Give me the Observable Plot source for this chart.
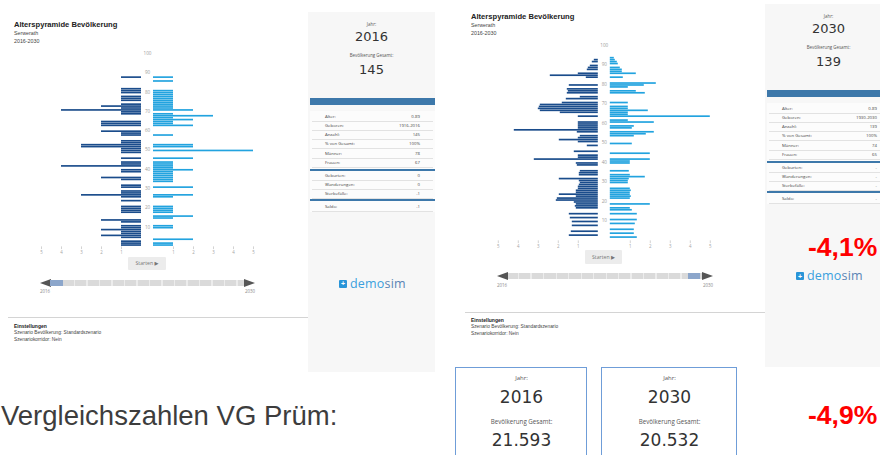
<!DOCTYPE html>
<html><head><meta charset="utf-8">
<script src="https://cdn.jsdelivr.net/npm/d3@7"></script>
<script src="https://cdn.jsdelivr.net/npm/@observablehq/plot@0.6"></script>
<style>
html,body{margin:0;padding:0;background:#fff;}
#root{position:relative;width:880px;height:455px;overflow:hidden;font-family:"Liberation Sans",Arial,sans-serif;}
</style></head><body><div id="root"></div>
<script>
// ---------- DATA ----------
// counts per single year of age (index = age 0..99)
const male2016 = [1,1,1,0,1,2,1,1,2,1, 1,0,1,2,0,0,0,1,1,1, 1,0,0,1,0,1,3,1,1,0, 1,1,0,0,1,2,0,0,1,1,
  0,4,1,1,0,1,0,0,1,1, 1,3,3,1,1,0,0,1,1,2, 0,0,2,2,2,0,0,0,1,1, 4,1,2,1,0,1,1,1,0,1, 1,1,0,0,0,0,0,1,0,0, 0,0,0,0,0,0,0,0,0,0];
const female2016 = [1,1,0,2,0,0,0,0,0,1, 1,0,0,0,1,2,0,1,1,1, 1,0,0,0,0,1,2,0,0,0, 2,0,0,1,1,1,1,1,1,2,
  1,1,1,1,0,2,0,0,0,5, 0,2,2,0,0,0,0,1,0,0, 0,0,2,1,1,2,1,3,1,0, 2,1,1,1,1,1,1,1,1,1, 1,0,0,0,0,1,0,1,0,0, 0,0,0,0,0,0,0,0,0,0];
const male2030 = [0,0,1.45,0,1.35,0,0,1.3,0,1.3, 0,1.4,0,1.45,0,0,1.1,1.15,1.1,1.2, 2.1,2.05,1.1,1.95,1.1,1.1,1.0,1.0,0.95,0.9,
  0.95,1.95,0,0.95,0.95,0.9,0,0,1.05,1.1, 0,3.2,1.0,1.0,0,1.2,0,0,0.55,0, 1.0,1.95,1.0,0.9,0,1.05,4.2,1.0,1.0,1.0,
  1.0,0,0,1.0,0,1.9,2.9,3.0,2.95,2.9, 1.8,0,1.6,0.9,0,1.55,1.5,1.55,0,1.45, 0,0,0,0.6,2.4,1.0,0,0.55,0.5,0.4, 0,0.3,0.2,0,0,0,0,0,0,0];
const female2030 = [0,1.35,0,1.2,0,1.2,0,0,1.25,0, 1.35,0,0,1.35,0,1.1,1.0,0,2.0,0, 0,1.0,1.05,1.0,1.0,1.05,1.0,0,0,0.9,
  0.9,0.95,1.75,1.0,0,0.95,0,0,0,1.0, 1.0,2.0,0,0,2.0,0,0,0,0,1.1, 0,0,0,1.2,1.8,2.2,0,1.1,1.2,0,
  2.2,0.9,0,5.0,0.9,0.9,1.9,0.9,0.9,0, 0.9,0,0,0,0,1.75,1.3,0,0.9,1.7, 2.3,0,0,0.65,0,1.3,0.6,0.6,0.5,0, 0.4,0.35,0.25,0.2,0,0,0,0,0,0];
const ageLabels = [10,20,30,40,50,60,70,80,90,100];
const xTickValues = [1,2,3,4,5];
const sliderYears = ["2016","2030"];
const statLabels = ["Alter:","Geboren:","Anzahl:","% von Gesamt:","Männer:","Frauen:"];
const stat2016 = ["0-89","1916-2016","145","100%","78","67"];
const stat2030 = ["0-89","1930-2030","139","100%","74","65"];
const flowLabels = ["Geburten:","Wanderungen:","Sterbefälle:"];
const flow2016 = ["0","0","-1"];
const flow2030 = ["-","-","-"];
const saldo2016 = "-1", saldo2030 = "-";
const total2016 = "145", total2030 = "139";
const vgYears = ["2016","2030"];
const vgTotals = ["21.593","20.532"];
const changeLocal = "-4,1%", changeVG = "-4,9%";

// ---------- HELPERS ----------
const root = document.getElementById('root');
const SANS = '"Liberation Sans",Arial,sans-serif';
const OPEN = '"Open Sans","DejaVu Sans",sans-serif';
const DEJA = '"DejaVu Sans",sans-serif';
function el(css, html){ const e=document.createElement('div'); e.style.cssText="position:absolute;"+css; if(html!=null) e.innerHTML=html; root.appendChild(e); return e; }
function T(text, x, cy, o={}){
  const size=o.size||5, lh=size*1.3;
  const tx = o.align==='center' ? 'translateX(-50%)' : o.align==='right' ? 'translateX(-100%)' : 'none';
  return el(`left:${x}px;top:${cy-lh/2}px;line-height:${lh}px;height:${lh}px;font-size:${size}px;font-weight:${o.weight||400};color:${o.color||'#333'};font-family:${o.family||SANS};white-space:nowrap;transform:${tx};${o.extra||''}`, text);
}

const maleColor="#1a4c8b", femaleColor="#22a3df";
function pyramid(male, female, cfg){
  const g=0.3, thick=0.86;
  const m = male.map((v,age)=>({age,v})).filter(d=>d.v>0);
  const f = female.map((v,age)=>({age,v})).filter(d=>d.v>0);
  const ticks = xTickValues.flatMap(k=>[{k,u:-(k+g)},{k,u:k+g}]);
  const p = Plot.plot({
    width: cfg.w, height: cfg.h, marginTop:0, marginRight:0, marginBottom:0, marginLeft:0,
    style:{background:"transparent", overflow:"visible", fontFamily:OPEN},
    x:{domain:[-6,6], range:[cfg.cx-120, cfg.cx+120], axis:null},
    y:{domain:[0,100], range:[cfg.y0, cfg.y100], axis:null},
    marks:[
      Plot.rect(m, {x1:-g, x2:d=>-(g+d.v), y1:d=>d.age+0.07, y2:d=>d.age+0.07+thick, fill:maleColor}),
      Plot.rect(f, {x1:g, x2:d=>g+d.v, y1:d=>d.age+0.07, y2:d=>d.age+0.07+thick, fill:femaleColor}),
      Plot.text(ageLabels, {x:0, y:d=>d, text:d=>String(d), fontSize:4.6, fill:"#9a9a9a"}),
      Plot.ruleX(ticks, {x:"u", y1:-0.2, y2:-1.6, stroke:"#b5b5b5", strokeWidth:0.6}),
      Plot.text(ticks, {x:"u", y:-3.3, text:d=>String(d.k), fontSize:4.4, fill:"#a5a5a5"})
    ]
  });
  const holder = el(`left:${cfg.left}px;top:${cfg.top}px;width:${cfg.w}px;height:${cfg.h}px;`);
  holder.appendChild(p);
}

function chartHeader(x, y){
  T("Alterspyramide Bevölkerung", x, y, {size:7.6, weight:700, color:"#222"});
  T("Serwerath", x, y+8, {size:5.3, color:"#444"});
  T("2016-2030", x, y+16, {size:5.3, color:"#444"});
}
function button(x1, x2, y1, y2){
  el(`left:${x1}px;top:${y1}px;width:${x2-x1}px;height:${y2-y1}px;background:#ececec;border-radius:1px;`);
  T("Starten &#9654;", (x1+x2)/2, (y1+y2)/2, {size:5.2, color:"#777", align:'center', family:OPEN});
}
function slider(x1, x2, cy, th1, th2, ly){
  el(`left:${x1+10}px;top:${cy-2.8}px;width:${x2-x1-20}px;height:5.6px;background:repeating-linear-gradient(90deg,#dadada 0 11px,#ececec 11px 12.5px);`);
  el(`left:${x1}px;top:${cy-4}px;width:0;height:0;border-top:4px solid transparent;border-bottom:4px solid transparent;border-right:11px solid #555;`);
  el(`left:${x2-11}px;top:${cy-4}px;width:0;height:0;border-top:4px solid transparent;border-bottom:4px solid transparent;border-left:11px solid #555;`);
  el(`left:${th1}px;top:${cy-2.8}px;width:${th2-th1}px;height:5.6px;background:#8ca6cb;`);
  T(sliderYears[0], x1+5, ly, {size:4.4, color:"#888", align:'center', family:OPEN});
  T(sliderYears[1], x2-5, ly, {size:4.4, color:"#888", align:'center', family:OPEN});
}
function settings(x1, x2, ly, x, ty){
  el(`left:${x1}px;top:${ly}px;width:${x2-x1}px;height:1px;background:#d4d4d4;`);
  T("Einstellungen", x, ty, {size:5, weight:700, color:"#222"});
  T("Szenario Bevölkerung: Standardszenario", x, ty+7, {size:4.8, color:"#444"});
  T("Szenariokorridor: Nein", x, ty+14, {size:4.8, color:"#444"});
}
function logo(x, cy){
  el(`left:${x}px;top:${cy-4.5}px;width:8px;height:8px;background:#2a95d8;border-radius:1px;`);
  T("+", x+4, cy, {size:7, weight:700, color:"#fff", align:'center'});
  T('<span style="color:#3aa0de">demo</span><span style="color:#5a84b5">sim</span>', x+11, cy, {size:12.5, family:OPEN, extra:"letter-spacing:0.2px;"});
}
function panel(x, y, h, year, total, stats, flows, saldo){
  const W=127;
  el(`left:${x}px;top:${y}px;width:${W}px;height:${h}px;background:#f7f7f7;`);
  const cx = x+W/2;
  T("Jahr:", cx, y+13, {size:4.4, color:"#555", align:'center', family:OPEN});
  T(year, cx, y+25, {size:13, color:"#333", align:'center', family:DEJA});
  T("Bevölkerung Gesamt:", cx, y+44, {size:4.4, color:"#555", align:'center', family:OPEN});
  T(total, cx, y+58, {size:13, color:"#333", align:'center', family:DEJA});
  el(`left:${x+2}px;top:${y+86}px;width:${W-2}px;height:7px;background:#3d78aa;`);
  el(`left:${x+2}px;top:${y+99}px;width:${W-2}px;height:101px;background:#fcfcfc;`);
  const row=(lab,val,cy)=>{
    T(lab, x+17, cy, {size:4.3, color:"#444", family:OPEN});
    T(val, x+112, cy, {size:4.3, color:"#444", align:'right', family:OPEN});
    el(`left:${x+4}px;top:${cy+4.2}px;width:${W-6}px;height:0.6px;background:#e2e2e2;`);
  };
  stats.forEach((v,i)=>row(statLabels[i], v, y+104.7+i*9.15));
  el(`left:${x+2}px;top:${y+157}px;width:${W-2}px;height:2px;background:#3d78aa;`);
  flows.forEach((v,i)=>row(flowLabels[i], v, y+164+i*8.9));
  el(`left:${x+2}px;top:${y+187}px;width:${W-2}px;height:2px;background:#3d78aa;`);
  row("Saldo:", saldo, y+194.7);
}
function vgBox(x, w, year, total){
  el(`left:${x}px;top:367px;width:${w-3}px;height:100px;border:1.5px solid #6f9dd8;background:#fff;`);
  const cx=x+w/2;
  T("Jahr:", cx, 379, {size:6, color:"#555", align:'center', family:OPEN});
  T(year, cx, 397, {size:17, color:"#333", align:'center', family:DEJA});
  T("Bevölkerung Gesamt:", cx, 422, {size:6.2, color:"#555", align:'center', family:OPEN});
  T(total, cx, 440, {size:17, color:"#333", align:'center', family:DEJA});
}

// ---------- LEFT SCREEN (2016) ----------
chartHeader(14, 25);
pyramid(male2016, female2016, {left:20, top:40, w:250, h:225, cx:127, y0:206, y100:13});
button(128, 166, 257, 270);
slider(40, 255, 283, 50, 63, 292);
settings(8, 308, 316.5, 14, 326);
panel(308, 12, 360, "2016", total2016, stat2016, flow2016, saldo2016);
logo(339, 284);

// ---------- RIGHT SCREEN (2030) ----------
chartHeader(471, 17);
pyramid(male2030, female2030, {left:477, top:30, w:250, h:225, cx:126.8, y0:210, y100:15});
button(585, 622, 250, 264);
slider(497, 713, 276, 688, 700, 285.5);
settings(465, 765, 311.5, 471, 320);
panel(765, 4, 363, "2030", total2030, stat2030, flow2030, saldo2030);
T(changeLocal, 808, 247, {size:26.5, weight:700, color:"#ff0000"});
logo(796, 276.5);

// ---------- BOTTOM ----------
T("Vergleichszahlen VG Prüm:", 1, 416, {size:27.5, color:"#3d3d3d"});
vgBox(455, 133, vgYears[0], vgTotals[0]);
vgBox(601, 137, vgYears[1], vgTotals[1]);
T(changeVG, 808, 415, {size:26.5, weight:700, color:"#ff0000"});
</script></body></html>
